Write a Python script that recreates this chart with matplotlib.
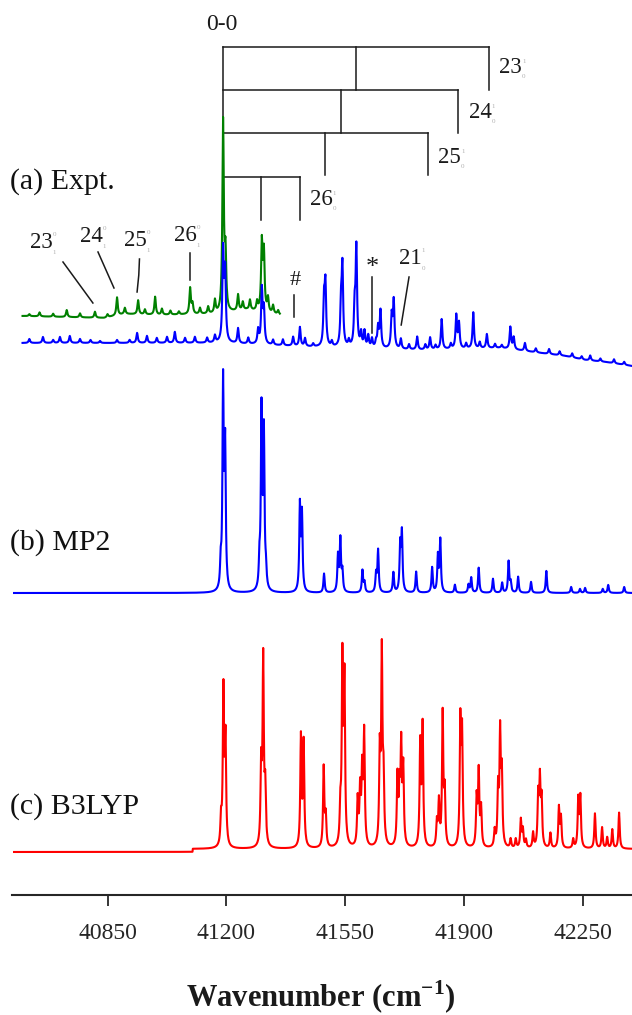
import numpy as np
import matplotlib
matplotlib.use("Agg")
import matplotlib.pyplot as plt

plt.rcParams['font.family'] = ['Liberation Serif', 'DejaVu Serif']
plt.rcParams['mathtext.fontset'] = 'custom'
plt.rcParams['mathtext.rm'] = 'Liberation Serif'
plt.rcParams['mathtext.bf'] = 'Liberation Serif:bold'

# ---------------- data (wavenumber in cm-1, intensity in arbitrary units) ----------------
XTICKS = [40850, 41200, 41550, 41900, 42250]
ORIGIN = 41190  # 0-0 band

# experimental trace (blue): peak positions / heights
EXPT_POS = [40620, 40660, 40690, 40710, 40739, 40769, 40800, 40828, 40878, 40915,
            40937, 40966, 40995, 41025, 41048, 41078, 41107, 41143, 41166,
            41190, 41196, 41234, 41264, 41293, 41304, 41310, 41337, 41366, 41396, 41416, 41431,
            41455, 41487, 41491, 41510, 41537, 41541, 41560, 41577, 41582,
            41596, 41606, 41617, 41628, 41640, 41646, 41653, 41686, 41692, 41713, 41737,
            41761, 41785, 41799, 41815, 41833, 41860, 41876, 41884, 41905, 41926, 41945, 41966, 41990, 42010,
            42035, 42045, 42078, 42110, 42149, 42180, 42217, 42245, 42270, 42300, 42340, 42370]
EXPT_INT = [4, 6, 3, 6, 7, 4, 3, 2, 3, 3,
            10, 7, 5, 6, 11, 5, 6, 5, 7,
            90, 68, 15, 6, 14, 54, 34, 5, 6, 9, 19, 8,
            3, 44, 60, 5, 39, 78, 6, 37, 98,
            14, 16, 12, 9, 6, 20, 37, 32, 47, 10, 5,
            13, 5, 12, 4, 30, 5, 33, 25, 5, 36, 6, 14, 4, 3,
            22, 12, 8, 4, 5, 4, 4, 3, 5, 3, 4, 3]
EXPT_DRIFT_WN = [40600, 41190, 41450, 41770, 42005, 42123, 42196, 42255, 42314, 42393]
EXPT_DRIFT = [0, 0, -4, -7, -5, -10, -13, -17, -19, -23]
EXPT_RANGE = [40600, 42393]

# experimental trace, second scan (green)
GREEN_POS = [40620, 40650, 40690, 40730, 40769, 40813, 40850, 40878, 40901, 40940, 40960, 40990, 41010, 41035, 41060,
             41093, 41100, 41122, 41146, 41166, 41190, 41197, 41234, 41248, 41269, 41290, 41304, 41310, 41322, 41337, 41352]
GREEN_INT = [2, 4, 3, 7, 4, 6, 3, 18, 6, 14, 5, 18, 6, 4, 3,
             26, 10, 6, 7, 13, 190, 55, 16, 8, 10, 9, 68, 58, 14, 8, 4]
GREEN_DRIFT_WN = [40600, 40840, 40900, 41000, 41180, 41260, 41357]
GREEN_DRIFT = [0, -2, 2, 1, 2, 6, 1]
GREEN_RANGE = [40600, 41357]

# MP2 simulation
MP2_POS = [41183, 41190, 41196, 41297, 41303, 41310, 41316,
           41416, 41422, 41487, 41528, 41535, 41541,
           41600, 41606, 41640, 41646, 41691, 41711, 41716,
           41758, 41805, 41822, 41829, 41872, 41912, 41920,
           41942, 41984, 42011, 42030, 42036, 42058, 42096,
           42141, 42214, 42240, 42255, 42307, 42323, 42370]
MP2_INT = [24, 205, 140, 26, 178, 155, 16,
           85, 76, 19, 36, 52, 20,
           22, 10, 18, 42, 20, 46, 58,
           21, 25, 36, 52, 8, 8, 15,
           25, 14, 10, 31, 10, 16, 11,
           22, 6, 4, 5, 4, 8, 6]

# B3LYP simulation
B3_POS = [41184, 41191, 41197, 41302, 41308, 41314, 41419, 41427, 41486, 41492,
          41535, 41541, 41547, 41586, 41593, 41599, 41605, 41651, 41657, 41662,
          41703, 41709, 41714, 41720, 41770, 41777, 41819, 41825, 41836, 41842,
          41888, 41893, 41936, 41942, 41949, 41989, 41999, 42005, 42010,
          42036, 42051, 42066, 42072, 42081, 42102, 42117, 42122, 42127,
          42153, 42178, 42184, 42220, 42235, 42241, 42284, 42305, 42320, 42335, 42355]
B3_INT = [26, 155, 105, 78, 185, 55, 110, 104, 80, 30,
          34, 182, 162, 46, 54, 72, 112, 90, 188, 62,
          68, 52, 96, 76, 102, 120, 24, 44, 132, 52,
          122, 110, 48, 74, 38, 16, 56, 110, 70,
          9, 9, 28, 18, 8, 15, 50, 64, 46,
          15, 40, 30, 9, 48, 50, 35, 21, 11, 19, 36]
B3_DRIFT_WN = [40575, 41100, 41101, 42393]
B3_DRIFT = [-3, -3, 0, 0]
CALC_RANGE = [40575, 42393]

# progression combs above the spectrum: mode, fundamental interval (cm-1)
PROG_MODES = ["23", "24", "25", "26"]
PROG_FREQ = [391, 346, 301, 112.5]

# ---------------- layout ----------------
W, H = 632, 1015
AX_BOTTOM_PX = 895
fig = plt.figure(figsize=(W / 100, H / 100), dpi=100)
ax = fig.add_axes([12 / W, (H - AX_BOTTOM_PX) / H, 620 / W, AX_BOTTOM_PX / H])
ax.set_xlim(40569, 42393)
ax.set_ylim(0, AX_BOTTOM_PX)

def row(r):
    return AX_BOTTOM_PX - r

def lorentz_sum(grid, pos, inten, gamma):
    d = grid[:, None] - np.asarray(pos, float)[None, :]
    return (np.asarray(inten, float)[None, :] / (1.0 + (d / gamma) ** 2)).sum(axis=1)

# traces
g_calc = np.arange(CALC_RANGE[0], CALC_RANGE[1] + 1, 1.0)
g_exp = np.arange(EXPT_RANGE[0], EXPT_RANGE[1] + 1, 1.0)
g_green = np.arange(GREEN_RANGE[0], GREEN_RANGE[1] + 1, 1.0)

y_b3 = row(849) + np.interp(g_calc, B3_DRIFT_WN, B3_DRIFT) + lorentz_sum(g_calc, B3_POS, B3_INT, 2.2)
y_mp2 = row(593) + lorentz_sum(g_calc, MP2_POS, MP2_INT, 2.2)
y_exp = row(343) + np.interp(g_exp, EXPT_DRIFT_WN, EXPT_DRIFT) + lorentz_sum(g_exp, EXPT_POS, EXPT_INT, 2.5)
y_green = row(316) + np.interp(g_green, GREEN_DRIFT_WN, GREEN_DRIFT) + lorentz_sum(g_green, GREEN_POS, GREEN_INT, 2.5)

LW = 1.5
ax.plot(g_calc, y_b3, color='#ff0000', lw=LW, zorder=3)
ax.plot(g_calc, y_mp2, color='#0000ff', lw=LW, zorder=3)
ax.plot(g_green, y_green, color='#008000', lw=LW, zorder=3)
ax.plot(g_exp, y_exp, color='#0000ff', lw=LW, zorder=4)

# progression combs
ink = '#1a1a1a'
comb_rows = [(47, 90), (90, 133), (133, 175), (177, 220)]
label_rows = [67, 112, 157, 199]
ax.plot([ORIGIN, ORIGIN], [row(47), row(220)], color=ink, lw=1.1, zorder=1)
for mode, f, (r0, r1), lr in zip(PROG_MODES, PROG_FREQ, comb_rows, label_rows):
    x1, x2 = ORIGIN + f, ORIGIN + 2 * f
    ax.plot([ORIGIN, x2], [row(r0), row(r0)], color=ink, lw=1.1, zorder=1)
    ax.plot([x1, x1], [row(r0), row(r1)], color=ink, lw=1.1, zorder=1)
    ax.plot([x2, x2], [row(r0), row(r1)], color=ink, lw=1.1, zorder=1)
    xl = x2 + 30
    ax.text(xl, row(lr), mode, fontsize=16.5, ha='left', va='center', color=ink)
    ax.text(xl + 68, row(lr) + 6, "1", fontsize=5, ha='left', va='center', color='#b0b0b0')
    ax.text(xl + 68, row(lr) - 9, "0", fontsize=5, ha='left', va='center', color='#b0b0b0')

ax.text(41187, row(24), "0-0", fontsize=17, ha='center', va='center', color=ink)

# hot band and other assignments
def vlabel(x, r, base, sup, sub):
    ax.text(x, row(r), base, fontsize=16.5, ha='left', va='center', color=ink)
    ax.text(x + 67, row(r) + 8, sup, fontsize=5, ha='left', va='center', color='#b0b0b0')
    ax.text(x + 67, row(r) - 10, sub, fontsize=5, ha='left', va='center', color='#b0b0b0')

vlabel(40622, 242, "23", "0", "1")
vlabel(40769, 236, "24", "0", "1")
vlabel(40898, 240, "25", "0", "1")
vlabel(41045, 235, "26", "0", "1")
vlabel(41708, 258, "21", "1", "0")

lead_lines = [
    ([40719, 40807], [262, 303]),
    ([40822, 40869], [252, 288]),
    ([40944, 40942, 40937], [259, 275, 292]),
    ([41093, 41093], [253, 280]),
    ([41399, 41399], [295, 317]),
    ([41628, 41628], [277, 333]),
    ([41737, 41726, 41714], [277, 300, 325]),
]
for xs, rs in lead_lines:
    ax.plot(xs, [row(r) for r in rs], color=ink, lw=1.1, zorder=2)

ax.text(41401, row(280), "#", fontsize=16, ha='center', va='center', color=ink)
ax.text(41628, row(268), "*", fontsize=19, ha='center', va='center', color=ink)

# panel labels
fig.text(10 / W, 1 - 182 / H, "(a) Expt.", fontsize=21.5, ha='left', va='center', color='#111111')
fig.text(10 / W, 1 - 543 / H, "(b) MP2", fontsize=21.5, ha='left', va='center', color='#111111')
fig.text(10 / W, 1 - 807 / H, "(c) B3LYP", fontsize=21.5, ha='left', va='center', color='#111111')

# axis styling
for s in ['top', 'left', 'right']:
    ax.spines[s].set_visible(False)
ax.spines['bottom'].set_linewidth(1.5)
ax.spines['bottom'].set_color('#262626')
ax.set_yticks([])
ax.set_xticks(XTICKS)
ax.set_xticklabels([str(v) for v in XTICKS])
ax.tick_params(axis='x', direction='out', length=8, width=1.3, pad=12,
               labelsize=17, colors='#262626')
ax.patch.set_alpha(0)

fig.text(321 / W, 1 - 997 / H, r"Wavenumber (cm$^{\mathbf{-1}}$)", fontsize=22,
         fontweight='bold', ha='center', va='center', color='#1a1a1a')

fig.savefig("out.png", dpi=100, facecolor='white')
